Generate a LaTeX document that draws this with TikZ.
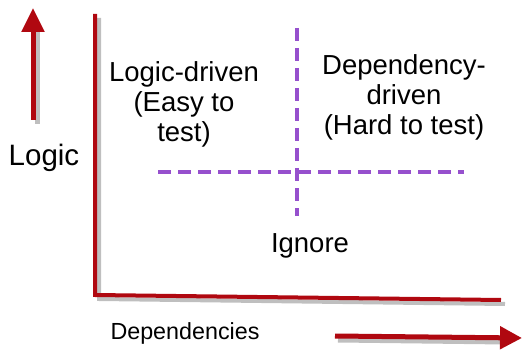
\documentclass[tikz,border=0pt]{standalone}
\usepackage{fontspec}
\setmainfont{Liberation Sans}
\usetikzlibrary{arrows.meta}

\definecolor{axisred}{RGB}{176,8,16}
\definecolor{splitpurple}{RGB}{150,80,205}

\begin{document}
\begin{tikzpicture}[x=1pt, y=-1pt]
  \tikzset{
    axis/.style={axisred, line width=4pt},
    shade/.style={black!25, line width=4pt},
    split/.style={splitpurple, line width=4pt, dash pattern=on 13pt off 7pt},
    quad/.style={align=center, font=\fontsize{27.5}{30}\selectfont, inner sep=0pt},
  }
  \useasboundingbox (0,0) rectangle (523,353);

  % 坐标轴
  \coordinate (O)  at (95, 295);
  \coordinate (Y)  at (95, 14);
  \coordinate (X)  at (501, 300);
  \coordinate (Ls) at (33, 120);
  \coordinate (Lt) at (33, 8);
  \coordinate (Ds) at (335, 336);
  \coordinate (Dt) at (522, 338);

  % 阴影
  \draw[shade] ([shift={(4,4)}]Y) -- ([shift={(4,4)}]O) -- ([shift={(4,4)}]X);
  \draw[shade, line width=5pt] ([shift={(4,4)}]Ls) -- ([shift={(4,18)}]Lt);
  \draw[shade, line width=5pt] ([shift={(3,4)}]Ds) -- ([shift={(-16,4)}]Dt);

  \draw[axis] (Y) -- (O) -- (X);
  \draw[axis, line width=5pt, -{Triangle[width=22pt,length=24pt]}] (Ls) -- (Lt);
  \draw[axis, line width=5pt, -{Triangle[width=22pt,length=22pt]}] (Ds) -- (Dt);

  % 分区线
  \coordinate (Vt) at (297, 28);
  \coordinate (Vb) at (297, 216);
  \coordinate (Hl) at (158, 172);
  \coordinate (Hr) at (464, 172);
  \draw[split] (Vt) -- (Vb);
  \draw[split] (Hl) -- (Hr);

  \node[quad] (logic) at (184, 104) {Logic-driven\\(Easy to\\test)};
  \node[quad] (dep)   at (404, 97)  {Dependency-\\driven\\(Hard to test)};
  \node[quad] (ign)   at (310, 246) {Ignore};
  \node[quad, font=\fontsize{29.5}{32}\selectfont] (ylab) at (44, 158) {Logic};
  \node[quad, font=\fontsize{23.3}{26}\selectfont] (xlab) at (185, 333) {Dependencies};
\end{tikzpicture}
\end{document}
